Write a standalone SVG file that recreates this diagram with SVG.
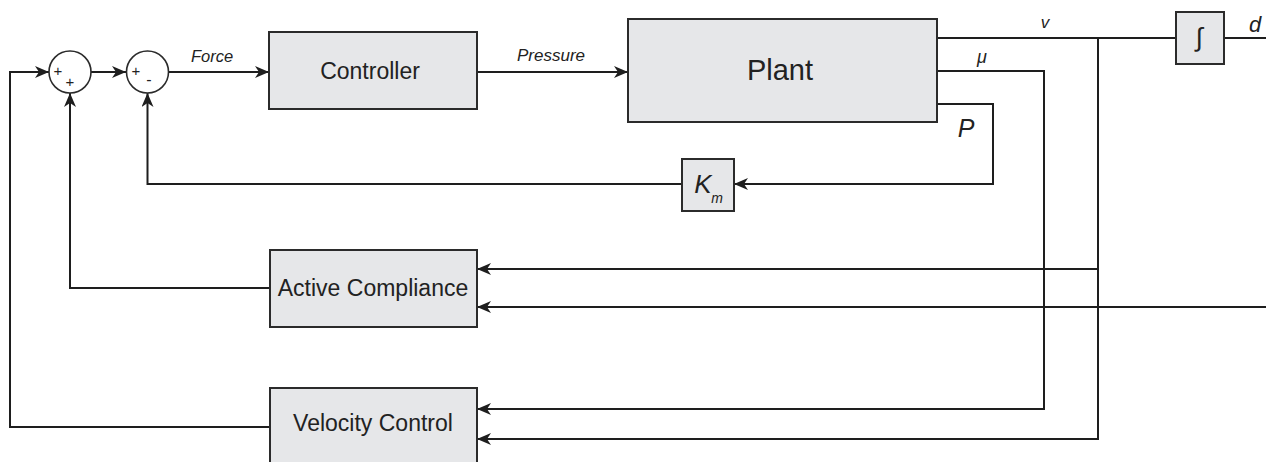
<svg xmlns="http://www.w3.org/2000/svg" width="1266" height="462" viewBox="0 0 1266 462">
  <style>
    .blk { fill: #e6e7e9; stroke: #2b2b2b; stroke-width: 2; }
    .sum { fill: #ffffff; stroke: #2b2b2b; stroke-width: 1.6; }
    .wire { fill: none; stroke: #1e1e1e; stroke-width: 2; }
    .lbl { font-family: "Liberation Sans", Arial, sans-serif; fill: #222; text-anchor: middle; }
    .sig { font-family: "Liberation Sans", Arial, sans-serif; fill: #222; font-style: italic; text-anchor: middle; }
  </style>
  <defs>
    <marker id="arr" markerUnits="userSpaceOnUse" markerWidth="15" markerHeight="12" refX="14" refY="6" orient="auto">
      <path d="M0,0 L14,6 L0,12 L4,6 z" fill="#1e1e1e"/>
    </marker>
  </defs>
  <rect width="1266" height="462" fill="#ffffff"/>

  <!-- connectors -->
  <g id="connectors">
    <!-- forward path -->
    <path class="wire" d="M91,72 H126" marker-end="url(#arr)"/>
    <path class="wire" d="M168,72 H269" marker-end="url(#arr)"/>
    <path class="wire" d="M477,72 H628" marker-end="url(#arr)"/>
    <!-- plant outputs -->
    <path class="wire" d="M937,38 H1176"/>
    <path class="wire" d="M1224,38 H1266"/>
    <path class="wire" d="M1098,38 V439 H477" marker-end="url(#arr)"/>
    <path class="wire" d="M937,71 H1044 V409 H477" marker-end="url(#arr)"/>
    <path class="wire" d="M937,104 H993 V184 H734" marker-end="url(#arr)"/>
    <!-- pressure feedback -->
    <path class="wire" d="M682,184 H147.5 V93" marker-end="url(#arr)"/>
    <!-- active compliance inputs -->
    <path class="wire" d="M1098,269 H477" marker-end="url(#arr)"/>
    <path class="wire" d="M1266,307 H477" marker-end="url(#arr)"/>
    <!-- active compliance output -->
    <path class="wire" d="M270,288 H70 V93" marker-end="url(#arr)"/>
    <!-- velocity control output -->
    <path class="wire" d="M270,427 H10 V72 H49" marker-end="url(#arr)"/>
  </g>

  <!-- signal labels -->
  <text class="sig" x="212" y="62" font-size="16.5">Force</text>
  <text class="sig" x="551" y="61" font-size="17">Pressure</text>
  <text class="sig" x="1045" y="28" font-size="17">v</text>
  <text class="sig" x="982" y="63" font-size="18">μ</text>
  <text class="sig" x="966" y="137" font-size="25">P</text>
  <text class="sig" x="1255" y="32" font-size="22">d</text>

  <g id="sum1">
    <circle class="sum" cx="70" cy="72" r="21"/>
    <text class="lbl" x="58" y="76" font-size="15">+</text>
    <text class="lbl" x="70" y="87" font-size="15">+</text>
  </g>
  <g id="sum2">
    <circle class="sum" cx="147.5" cy="72" r="21"/>
    <text class="lbl" x="136" y="76" font-size="15">+</text>
    <text class="lbl" x="149" y="85" font-size="16">-</text>
  </g>

  <g id="controller">
    <rect class="blk" x="269" y="32" width="208" height="77"/>
    <text class="lbl" x="370" y="79" font-size="23">Controller</text>
  </g>
  <g id="plant">
    <rect class="blk" x="628" y="19" width="309" height="103"/>
    <text class="lbl" x="780" y="80" font-size="29">Plant</text>
  </g>
  <g id="integrator">
    <rect class="blk" x="1176" y="12" width="48" height="52"/>
    <text class="lbl" x="1199" y="46" font-size="26" font-weight="300">∫</text>
  </g>
  <g id="km">
    <rect class="blk" x="682" y="159" width="52" height="52"/>
    <text class="sig" x="703" y="193" font-size="26">K</text>
    <text class="sig" x="717" y="203" font-size="14">m</text>
  </g>
  <g id="active-compliance">
    <rect class="blk" x="270" y="250" width="207" height="77"/>
    <text class="lbl" x="373" y="296" font-size="23">Active Compliance</text>
  </g>
  <g id="velocity-control">
    <rect class="blk" x="270" y="388" width="207" height="84"/>
    <text class="lbl" x="373" y="431" font-size="23">Velocity Control</text>
  </g>
</svg>
